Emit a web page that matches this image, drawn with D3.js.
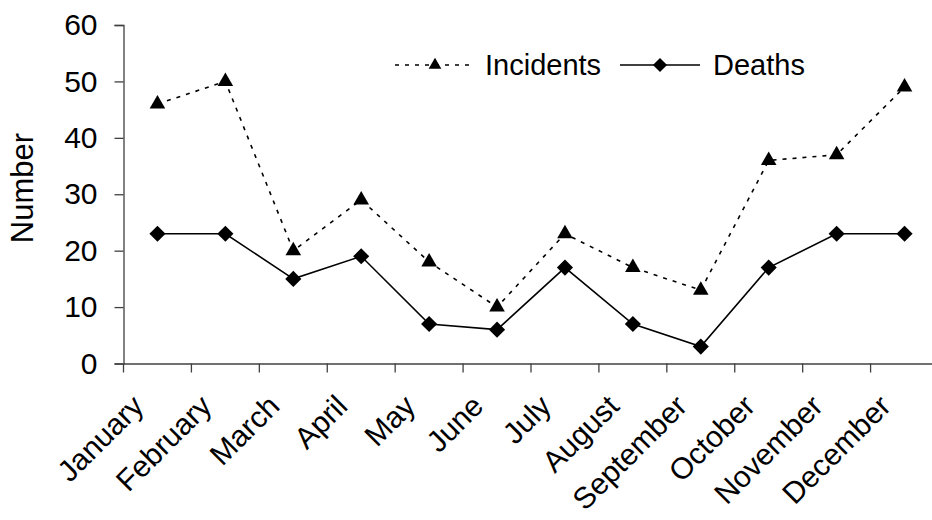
<!DOCTYPE html>
<html><head><meta charset="utf-8">
<script src="https://cdn.jsdelivr.net/npm/d3@7"></script>
<style>body{margin:0;background:#fff}svg{display:block;font-family:"Liberation Sans",Arial,sans-serif}</style>
</head><body><svg id="c" width="932" height="520"></svg>
<script>
const months = ["January","February","March","April","May","June","July","August","September","October","November","December"];
const incidents = [46,50,20,29,18,10,23,17,13,36,37,49];
const deaths = [23,23,15,19,7,6,17,7,3,17,23,23];
const yTicks = [0,10,20,30,40,50,60];

const svg = d3.select("#c");
const x = d3.scaleBand().domain(months).range([123.5, 938.5]);
const y = d3.scaleLinear().domain([0,60]).range([363.5, 25]);

// y axis
const ya = svg.append("g").attr("transform","translate(123.5,0)")
  .call(d3.axisLeft(y).tickValues(yTicks).tickSize(9).tickPadding(17));
ya.select(".domain").attr("stroke","#404040").attr("stroke-width",1.3);
ya.selectAll(".tick line").attr("stroke","#404040").attr("stroke-width",1.3);
ya.selectAll("text").attr("font-size",30).attr("fill","#000").attr("font-family","Liberation Sans, Arial, sans-serif");

// x axis
const xa = svg.append("g").attr("transform","translate(0,363.5)")
  .call(d3.axisBottom(x).tickSize(0).tickFormat(""));
xa.select(".domain").attr("stroke","#404040").attr("stroke-width",1.3);
xa.selectAll(".tick").remove();
const tickPos = months.map(m => x(m)).concat([x.range()[1]]);
xa.selectAll(".xt").data(tickPos).enter().append("line")
  .attr("x1",d=>d).attr("x2",d=>d).attr("y1",0).attr("y2",9)
  .attr("stroke","#404040").attr("stroke-width",1.3);
svg.append("g").selectAll("text").data(months).enter().append("text")
  .attr("transform", d => `translate(${x(d)+x.bandwidth()/2 - 12},${408}) rotate(-45)`)
  .attr("text-anchor","end")
  .attr("font-size",30).attr("fill","#000").text(d=>d);

// y title
svg.append("text").attr("transform","translate(33,188) rotate(-90)")
  .attr("text-anchor","middle").attr("font-size",31).text("Number");

const cx = d => x(d) + x.bandwidth()/2;
const line = d3.line().x((d,i)=>cx(months[i])).y(d=>y(d));

svg.append("path").datum(incidents).attr("d",line).attr("fill","none")
  .attr("stroke","#000").attr("stroke-width",1.6).attr("stroke-dasharray","4,6");
svg.append("path").datum(deaths).attr("d",line).attr("fill","none")
  .attr("stroke","#000").attr("stroke-width",1.6);

const tri = d3.symbol().type(d3.symbolTriangle).size(105);
const dia = d3.symbol().type(d3.symbolSquare).size(130);
const triS = d3.symbol().type(d3.symbolTriangle).size(70);
const diaS = d3.symbol().type(d3.symbolSquare).size(100);
svg.append("g").selectAll("path").data(incidents).enter().append("path")
  .attr("d",tri).attr("transform",(d,i)=>`translate(${cx(months[i])},${y(d)})`).attr("fill","#000");
svg.append("g").selectAll("path").data(deaths).enter().append("path")
  .attr("d",dia).attr("transform",(d,i)=>`translate(${cx(months[i])},${y(d)}) rotate(45)`).attr("fill","#000");

// legend
const lg = svg.append("g");
lg.append("line").attr("x1",395).attr("x2",470).attr("y1",65).attr("y2",65)
  .attr("stroke","#000").attr("stroke-width",1.6).attr("stroke-dasharray","4,6");
lg.append("path").attr("d",triS).attr("transform","translate(435,65)");
lg.append("text").attr("x",485).attr("y",75).attr("font-size",29).text("Incidents");
lg.append("line").attr("x1",620).attr("x2",700).attr("y1",65).attr("y2",65)
  .attr("stroke","#000").attr("stroke-width",1.6);
lg.append("path").attr("d",diaS).attr("transform","translate(660,65) rotate(45)");
lg.append("text").attr("x",713).attr("y",75).attr("font-size",29).text("Deaths");
</script></body></html>
